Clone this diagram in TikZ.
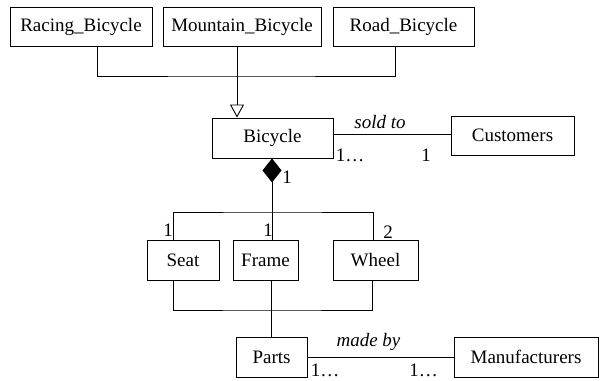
\documentclass[tikz,border=0pt]{standalone}
\usepackage{fontspec}
\setmainfont{Liberation Serif}
\usetikzlibrary{arrows.meta}
\newcommand*{\umltext}{\fontsize{19}{22}\selectfont}
\tikzset{
  class/.style = {draw, line width = 0.9pt, minimum height = 40pt,
    inner sep = 0pt, font = \umltext},
  mult/.style = {inner sep = 0pt, font = \umltext},
  link/.style = {line width = 0.9pt}
}

\begin{document}
\begin{tikzpicture}[x = 1pt, y = -1pt]
  \useasboundingbox (0,0) rectangle (601,380);
  % kinds of bicycle
  \foreach \name/\x/\w/\txt in {racing/81/142/Racing\_Bicycle,
      mountain/242/158/Mountain\_Bicycle, road/403.5/141/Road\_Bicycle} {
    \node[class, minimum width = \w pt, minimum height = 39pt] (\name)
      at (\x,26.5) {\txt};
  }
  \node[class, minimum width = 121pt] (bicycle) at (272.5,138) {Bicycle};
  \node[class, minimum width = 123pt, minimum height = 39pt] (customers)
    at (512.5,135.5) {Customers};
  % components
  \foreach \name/\x/\w/\txt in {seat/183/72/Seat, frame/265.5/65/Frame,
      wheel/375.5/85/Wheel} {
    \node[class, minimum width = \w pt] (\name) at (\x,260) {\txt};
  }
  \node[class, minimum width = 71pt] (parts) at (271.5,357) {Parts};
  \node[class, minimum width = 144pt] (manufacturers) at (526,357)
    {Manufacturers};

  % generalisation
  \coordinate (gen) at (237,76);
  \draw[link] ([xshift = 16pt]racing.south) |- (gen) -| ([xshift = -8.5pt]road.south);
  \draw[link, -{Triangle[open, length = 13pt, width = 14pt]}]
    ([xshift = -5pt]mountain.south) -- ([xshift = -5pt]mountain.south |- bicycle.north);

  % composition
  \coordinate (comp) at (272,212);
  \draw[link, {Diamond[length = 24pt, width = 19pt]}-] (comp |- bicycle.south) -- (comp);
  \draw[link] ([xshift = -10pt]seat.north) |- (comp) -| ([xshift = -2pt]wheel.north);
  \draw[link] (comp) -- (comp |- frame.north);
  \node[mult] (m1) at (287,177) {1};
  \node[mult] (m2) at (168,230) {1};
  \node[mult] (m3) at (268,230) {1};
  \node[mult] (m4) at (388,232) {2};

  % parts
  \coordinate (agg) at (271,310);
  \draw[link] ([xshift = -10pt]seat.south) |- (agg) -| ([xshift = -3pt]wheel.south);
  \draw[link] (agg |- frame.south) -- (agg |- parts.north);

  % associations
  \draw[link] ([yshift = 4pt]bicycle.east) -- ([yshift = 4pt]bicycle.east -| customers.west);
  \node[mult] (soldto) at (380,122) {\itshape sold to};
  \node[mult] (m5) at (350,155) {1…};
  \node[mult] (m6) at (426,155) {1};
  \draw[link] (parts) -- (manufacturers);
  \node[mult] (madeby) at (368.5,342) {\itshape made by};
  \node[mult] (m7) at (325,370) {1…};
  \node[mult] (m8) at (423.5,370) {1…};
\end{tikzpicture}
\end{document}
